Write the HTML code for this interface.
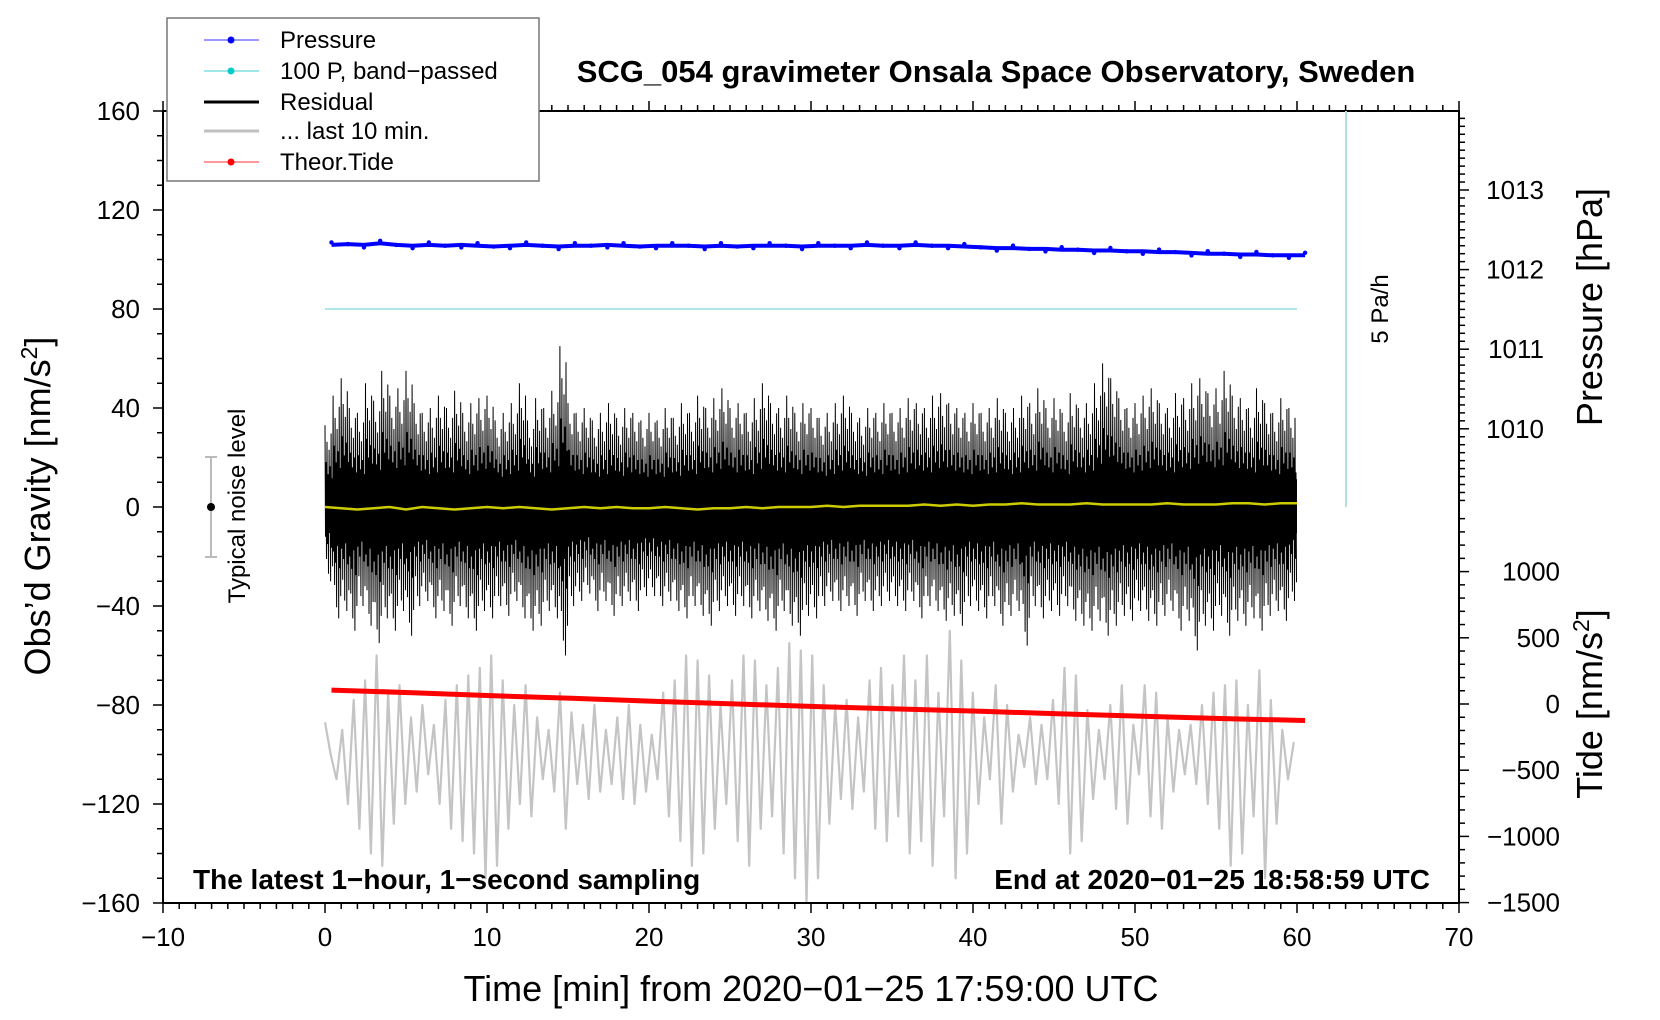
<!DOCTYPE html>
<html><head><meta charset="utf-8"><style>
html,body{margin:0;padding:0;background:#fff;}
svg{display:block;font-family:"Liberation Sans",Arial,sans-serif;}
</style></head><body>
<svg id="chart" width="1660" height="1020" viewBox="0 0 1660 1020" xmlns="http://www.w3.org/2000/svg">
<rect width="1660" height="1020" fill="#fff"/>
<g id="axes"></g>
<g id="series"></g>
<rect x="163" y="111" width="1296" height="792" fill="none" stroke="#000" stroke-width="2"/>
<text x="996" y="82" font-size="31" font-weight="bold" text-anchor="middle">SCG_054 gravimeter Onsala Space Observatory, Sweden</text>
<text transform="translate(50,506) rotate(-90)" font-size="36" text-anchor="middle">Obs’d Gravity [nm/s<tspan dy="-13" font-size="23">2</tspan><tspan dy="13">]</tspan></text>
<text transform="translate(1602,307) rotate(-90)" font-size="36" text-anchor="middle">Pressure [hPa]</text>
<text transform="translate(1602,704) rotate(-90)" font-size="36" text-anchor="middle">Tide [nm/s<tspan dy="-13" font-size="23">2</tspan><tspan dy="13">]</tspan></text>
<text x="811" y="1001" font-size="36" text-anchor="middle">Time [min] from 2020−01−25 17:59:00 UTC</text>
<text x="193" y="889" font-size="28" font-weight="bold">The latest 1−hour, 1−second sampling</text>
<text x="1430" y="889" font-size="28" font-weight="bold" text-anchor="end">End at 2020−01−25 18:58:59 UTC</text>
<line x1="1346" y1="111" x2="1346" y2="507" stroke="#b0e0e0" stroke-width="2"/>
<text transform="translate(1388,309) rotate(-90)" font-size="24" text-anchor="middle">5 Pa/h</text>
<g>
<line x1="211" y1="457" x2="211" y2="557" stroke="#bbb" stroke-width="2"/>
<line x1="205" y1="457" x2="217" y2="457" stroke="#bbb" stroke-width="2"/>
<line x1="205" y1="557" x2="217" y2="557" stroke="#bbb" stroke-width="2"/>
<circle cx="211" cy="507" r="4" fill="#000"/>
</g>
<text transform="translate(245,506) rotate(-90)" font-size="24" text-anchor="middle">Typical noise level</text>
<g>
<rect x="167" y="18" width="372" height="163" fill="#fff" stroke="#777" stroke-width="1.5"/>
<g><line x1="204" y1="40" x2="259" y2="40" stroke="#3333ff" stroke-width="1"/><circle cx="231" cy="40" r="3.5" fill="#0000ff"/><text x="280" y="48" font-size="24">Pressure</text></g>
<g><line x1="204" y1="71" x2="259" y2="71" stroke="#40d0d0" stroke-width="1"/><circle cx="231" cy="71" r="3.5" fill="#00cccc"/><text x="280" y="79" font-size="24">100 P, band−passed</text></g>
<g><line x1="204" y1="102" x2="259" y2="102" stroke="#000" stroke-width="3"/><text x="280" y="110" font-size="24">Residual</text></g>
<g><line x1="204" y1="131" x2="259" y2="131" stroke="#c0c0c0" stroke-width="3"/><text x="280" y="139" font-size="24">... last 10 min.</text></g>
<g><line x1="204" y1="162" x2="259" y2="162" stroke="#ff3333" stroke-width="1"/><circle cx="231" cy="162" r="3.5" fill="#ff0000"/><text x="280" y="170" font-size="24">Theor.Tide</text></g>
</g>
</svg>
<script>
const residualMax=[33,45,52,40,38,50,43,55,45,48, 55,42,38,40,45,40,47,38,42,44, 45,35,38,42,50,35,44,40,47,65, 42,38,40,35,38,42,36,40,38,35, 38,35,40,36,42,38,45,40,44,48, 40,42,38,44,50,42,40,45,38,42, 40,36,38,42,45,38,36,40,38,42, 38,40,44,42,40,45,46,42,40,38, 42,38,40,44,38,40,45,42,48,40, 44,38,46,40,42,50,58,52,44,40, 42,45,48,42,40,46,44,50,52,46, 48,55,45,44,40,48,42,38,44,40];
const residualMin=[-30,-45,-42,-50,-40,-48,-55,-45,-50,-42, -52,-40,-38,-45,-42,-48,-40,-45,-50,-42, -45,-40,-44,-38,-45,-50,-48,-42,-45,-60, -40,-38,-35,-42,-38,-44,-40,-38,-42,-36, -36,-40,-38,-42,-45,-40,-44,-48,-42,-40, -44,-40,-45,-42,-46,-50,-42,-48,-52,-44, -45,-40,-38,-42,-40,-44,-38,-42,-40,-38, -40,-42,-38,-45,-40,-42,-46,-44,-48,-40, -42,-45,-40,-48,-44,-42,-56,-40,-45,-42, -44,-40,-46,-48,-50,-46,-52,-48,-44,-46, -42,-46,-48,-44,-42,-50,-46,-58,-48,-50, -44,-52,-46,-48,-45,-50,-44,-42,-46,-38];
const smoothResidual=[0,-0.5,-1,-0.5,0,-1,0,-0.5,-1,-0.5,0,-0.5,0,-0.5,-1,-0.5,0,-0.5,0,-0.5,-0.5,0,-0.5,-1,-0.5,-0.5,0,-0.5,0,0,0,0.5,0,0.5,0.5,0.5,0.5,1,0.5,1,0.5,1,1,1.5,1,1,1,1.5,1,1,1,1,1.5,1,1,1,1.5,1.5,1,1.5,1.5];
const last10=[-87,-100,-110,-90,-120,-78,-130,-70,-140,-60,-145,-75,-128,-72,-120,
-85,-115,-80,-108,-88,-120,-78,-130,-72,-135,-68,-140,-65,-150,
-60,-145,-70,-130,-80,-120,-72,-125,-85,-110,-90,-115,-75,-130,
-83,-112,-88,-118,-80,-115,-90,-112,-85,-118,-80,-120,-88,-115,
-92,-110,-75,-125,-70,-135,-60,-145,-62,-140,-68,-130,-80,-120,
-70,-135,-60,-145,-62,-130,-72,-125,-65,-140,-55,-150,-58,-160,
-60,-150,-72,-128,-80,-118,-78,-122,-85,-115,-70,-130,-65,-135,
-72,-125,-60,-140,-70,-135,-60,-145,-75,-125,-50,-150,-62,-140,
-75,-120,-85,-110,-72,-128,-80,-115,-92,-105,-85,-112,-88,-110,
-78,-120,-65,-140,-68,-135,-82,-118,-90,-110,-80,-122,-72,-128,
-88,-108,-72,-125,-75,-130,-85,-115,-90,-108,-88,-112,-80,-120,
-75,-130,-72,-145,-70,-140,-80,-125,-66,-150,-78,-128,-90,-110,-95];
const tideValues=[105,85,62,42,20,0,-20,-38,-55,-75,-93,-110,-125];
const pressureValues=[1012.31,1012.32,1012.31,1012.33,1012.31,1012.30,1012.31,1012.30,1012.31,1012.30,1012.29,1012.30,1012.31,1012.30,1012.29,1012.30,1012.30,1012.31,1012.30,1012.29,1012.30,1012.30,1012.30,1012.29,1012.30,1012.29,1012.30,1012.30,1012.30,1012.29,1012.30,1012.30,1012.30,1012.31,1012.30,1012.30,1012.31,1012.30,1012.30,1012.29,1012.28,1012.27,1012.27,1012.26,1012.26,1012.25,1012.25,1012.24,1012.24,1012.23,1012.23,1012.22,1012.22,1012.21,1012.20,1012.20,1012.19,1012.19,1012.18,1012.18,1012.18];
const bandPassed=[0,0];
const xTicks=[-10,0,10,20,30,40,50,60,70];
const gravTicks=[160,120,80,40,0,-40,-80,-120,-160];
const pressTicks=[1013,1012,1011,1010];
const tideTicks=[1000,500,0,-500,-1000,-1500];

const NS="http://www.w3.org/2000/svg";
const X=t=>325+t*16.2;
const Y=g=>507-g*2.475;
const YP=p=>190+(1013-p)*79.6;
const YT=v=>704-v*0.1324;
function mk(tag,attrs,parent){const e=document.createElementNS(NS,tag);for(const k in attrs)e.setAttribute(k,attrs[k]);parent.appendChild(e);return e;}
const axes=document.getElementById('axes');
const series=document.getElementById('series');

for(let m=-10;m<=70;m++){
  const major=m%10===0;
  const tk=mk('line',{x1:X(m),x2:X(m),y1:903,y2:903+(major?10:6),stroke:'#000','stroke-width':1.5},axes);
  
  
  const tt=mk('line',{x1:X(m),x2:X(m),y1:111,y2:111-(major?10:6),stroke:'#000','stroke-width':1.5},axes);
  
  
}
xTicks.forEach(v=>{const t=mk('text',{x:X(v),y:946,'font-size':26,'text-anchor':'middle'},axes);t.textContent=String(v).replace('-','−');

});
for(let g=-160;g<=160;g+=10){const major=g%40===0;
const tk=mk('line',{x1:163,x2:163-(major?10:6),y1:Y(g),y2:Y(g),stroke:'#000','stroke-width':1.5},axes);

}
gravTicks.forEach(v=>{const t=mk('text',{x:140,y:Y(v)+9,'font-size':26,'text-anchor':'end'},axes);t.textContent=String(v).replace('-','−');

});
for(let i=0;i<=50;i++){const p=1014.0-i*0.1;const y=YP(p);if(y<111||y>507)continue;const major=Math.abs(p-Math.round(p))<0.01;
const tk=mk('line',{x1:1459,x2:1459+(major?10:6),y1:y,y2:y,stroke:'#000','stroke-width':1.5},axes);

}
pressTicks.forEach(v=>{const t=mk('text',{x:1544,y:YP(v)+9,'font-size':26,'text-anchor':'end'},axes);t.textContent=v;

});
for(let v=-1500;v<=1500;v+=100){const y=YT(v);if(y<507||y>903)continue;const major=v%500===0;
const tk=mk('line',{x1:1459,x2:1459+(major?10:6),y1:y,y2:y,stroke:'#000','stroke-width':1.5},axes);

}
tideTicks.forEach(v=>{const t=mk('text',{x:1560,y:YT(v)+9,'font-size':26,'text-anchor':'end'},axes);t.textContent=String(v).replace('-','−');

});

const bp=mk('line',{x1:X(0),x2:X(60),y1:Y(80+bandPassed[0]),y2:Y(80+bandPassed[1]),stroke:'#b0e6e6','stroke-width':2},series);



let d='';last10.forEach((v,i)=>{d+=(i?'L':'M')+X(i*59.8/(last10.length-1)).toFixed(1)+','+Y(v).toFixed(1);});
const gl=mk('path',{d:d,fill:'none',stroke:'#c4c4c4','stroke-width':2.2,'stroke-linejoin':'round'},series);



const fr=[1,0.55,0.8,0.4,0.7,0.5,0.9,0.35];
let rd='';const bw=60/residualMax.length;
residualMax.forEach((hi,i)=>{const lo=residualMin[i];
  for(let k=0;k<fr.length;k++){const x=X(i*bw+k*bw/fr.length);
    rd+=(i===0&&k===0?'M':'L')+x.toFixed(1)+','+Y(hi*fr[k]).toFixed(1)+'L'+(x+0.5).toFixed(1)+','+Y(lo*fr[(k+3)%fr.length]).toFixed(1);}
});
const rl=mk('path',{d:rd,fill:'none',stroke:'#000','stroke-width':1},series);


let cd='';residualMax.forEach((hi,i)=>{cd+=(i?'L':'M')+X(i*bw).toFixed(1)+','+Y(hi*0.28).toFixed(1)+'L'+X((i+1)*bw).toFixed(1)+','+Y(hi*0.28).toFixed(1);});
for(let i=residualMin.length-1;i>=0;i--){cd+='L'+X((i+1)*bw).toFixed(1)+','+Y(residualMin[i]*0.28).toFixed(1)+'L'+X(i*bw).toFixed(1)+','+Y(residualMin[i]*0.28).toFixed(1);}
const rc=mk('path',{d:cd+'Z',fill:'#000'},series);



let yd='';smoothResidual.forEach((v,i)=>{yd+=(i?'L':'M')+X(i).toFixed(1)+','+Y(v).toFixed(1);});
const yl=mk('path',{d:yd,fill:'none',stroke:'#cccc00','stroke-width':2.5},series);



let pd='';pressureValues.forEach((v,i)=>{const t=0.4+i*(60.5-0.4)/(pressureValues.length-1);pd+=(i?'L':'M')+X(t).toFixed(1)+','+YP(v).toFixed(1);});
const pl=mk('path',{d:pd,fill:'none',stroke:'#0000ff','stroke-width':4},series);


pressureValues.forEach((v,i)=>{const t=0.4+i*(60.5-0.4)/(pressureValues.length-1);
  const c=mk('circle',{cx:X(t),cy:YP(v)+(i%3-1)*2.5,r:2.2,fill:'#0000ff'},series);
  
  });

let td='';tideValues.forEach((v,i)=>{const t=0.4+i*(60.5-0.4)/(tideValues.length-1);td+=(i?'L':'M')+X(t).toFixed(1)+','+YT(v).toFixed(1);});
const tl=mk('path',{d:td,fill:'none',stroke:'#ff0000','stroke-width':5},series);


</script>
</body></html>
